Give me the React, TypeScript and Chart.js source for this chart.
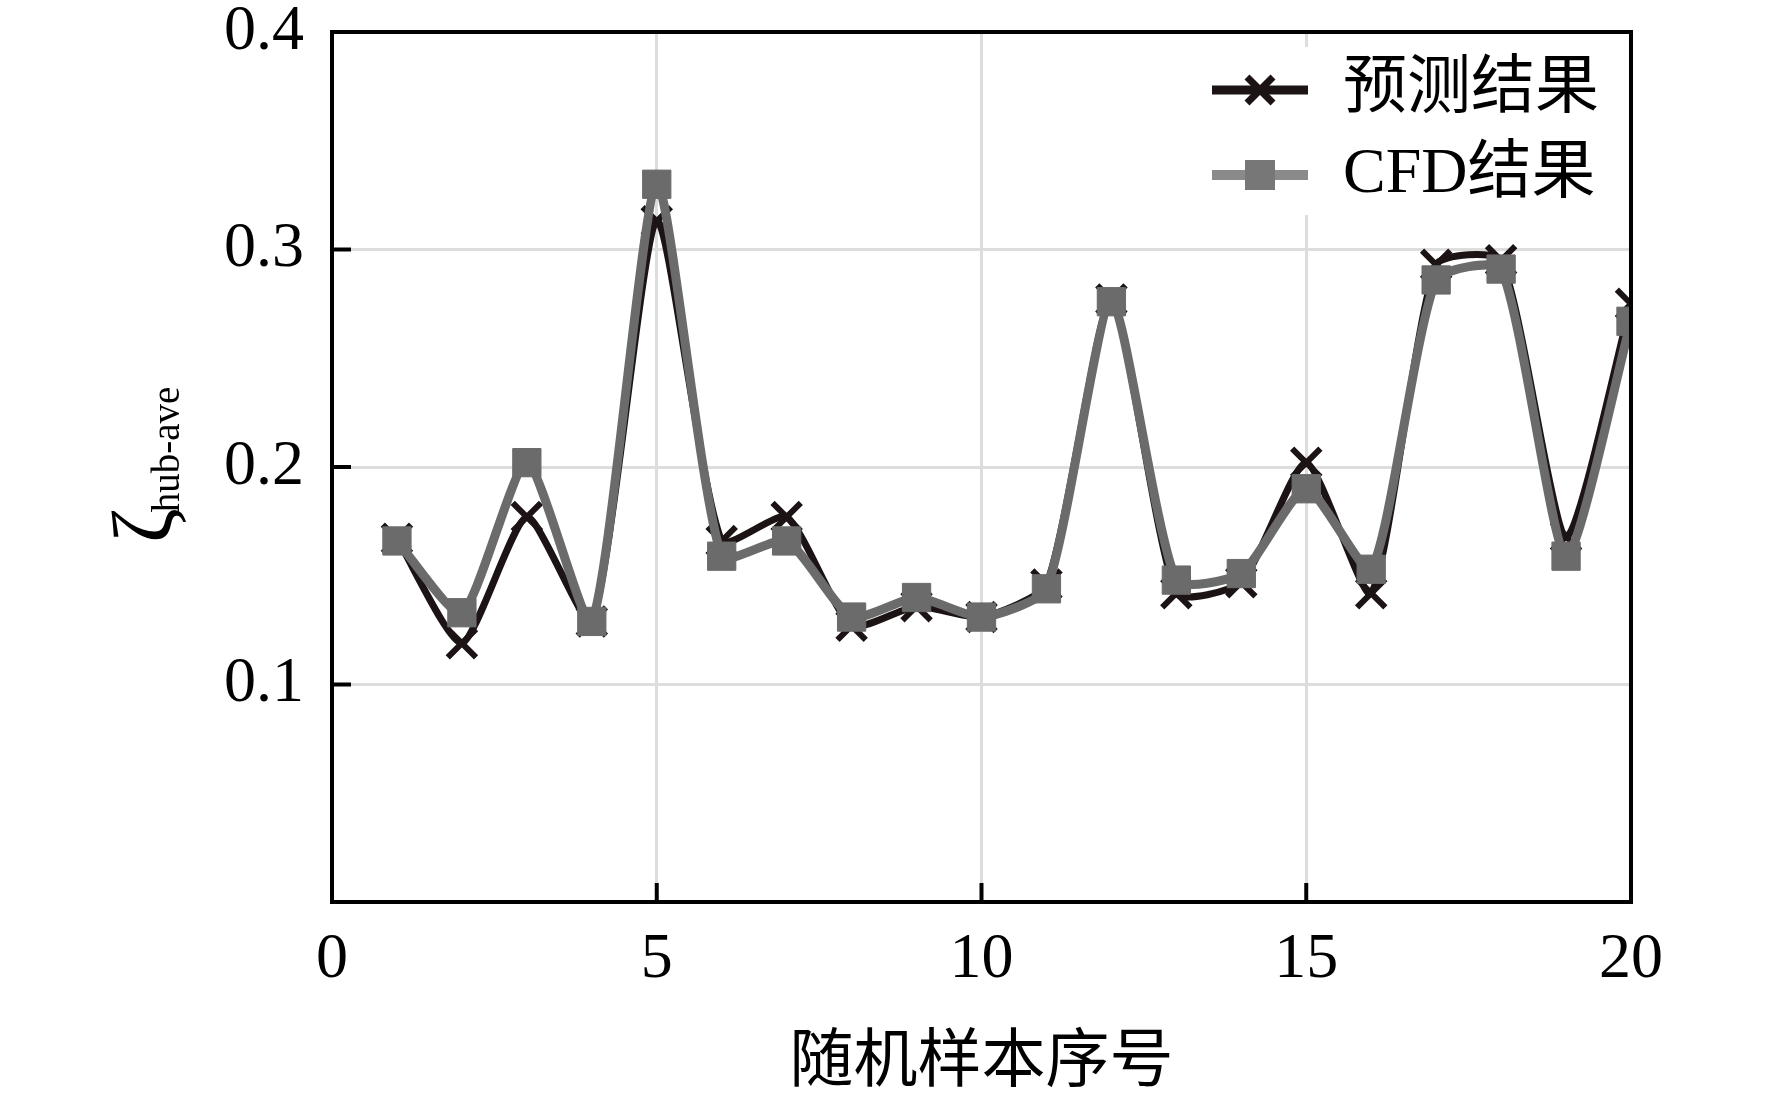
import React, { useEffect, useRef } from 'react';
import { Chart, registerables } from 'chart.js';

Chart.register(...registerables);

const sampleIndex = [1, 2, 3, 4, 5, 6, 7, 8, 9, 10, 11, 12, 13, 14, 15, 16, 17, 18, 19, 20];
const predicted = [0.167, 0.119, 0.177, 0.129, 0.313, 0.166, 0.177, 0.127, 0.136, 0.131, 0.146, 0.277, 0.142, 0.147, 0.202, 0.142, 0.293, 0.295, 0.168, 0.275];
const cfdResult = [0.166, 0.133, 0.202, 0.129, 0.330, 0.159, 0.166, 0.131, 0.140, 0.131, 0.144, 0.276, 0.148, 0.151, 0.190, 0.153, 0.286, 0.291, 0.159, 0.267];
const xTickValues = [0, 5, 10, 15, 20];
const yTickValues = [0.1, 0.2, 0.3, 0.4];
const seriesLabels = ['预测结果', 'CFD结果'];
const xTitle = '随机样本序号';
const yTitleMain = 'ζ';
const yTitleSub = 'hub-ave';

const FONT = "'Liberation Serif', 'Noto Sans CJK SC', serif";
const BLACK = '#1c1414';
const GRAY = '#6b6b6b';
const GRID = '#dddddd';

const framePlugin = {
  id: 'frameDecor',
  afterDraw(chart: any) {
    const ctx = chart.ctx as CanvasRenderingContext2D;
    const { left, right, top, bottom } = chart.chartArea;
    const xs = chart.scales.x;
    const ys = chart.scales.y;
    ctx.save();
    // inward ticks
    ctx.strokeStyle = '#000';
    ctx.lineWidth = 4;
    ctx.lineCap = 'butt';
    xTickValues.forEach((v) => {
      const px = xs.getPixelForValue(v);
      ctx.beginPath();
      ctx.moveTo(px, bottom);
      ctx.lineTo(px, bottom - 19);
      ctx.stroke();
    });
    yTickValues.forEach((v) => {
      const py = ys.getPixelForValue(v);
      ctx.beginPath();
      ctx.moveTo(left, py);
      ctx.lineTo(left + 19, py);
      ctx.stroke();
    });
    // frame
    ctx.lineWidth = 4;
    ctx.strokeRect(left, top, right - left, bottom - top);

    // legend
    const bgL = right - 436;
    ctx.fillStyle = '#ffffff';
    ctx.fillRect(bgL, top + 15, 426, 168);
    const lineX0 = right - 419;
    const lineX1 = right - 323;
    const mx = (lineX0 + lineX1) / 2;
    const textX = right - 288;
    const rows = [top + 58, top + 143];
    // row 1: predicted
    ctx.strokeStyle = BLACK;
    ctx.lineWidth = 9;
    ctx.beginPath();
    ctx.moveTo(lineX0, rows[0]);
    ctx.lineTo(lineX1, rows[0]);
    ctx.stroke();
    ctx.lineWidth = 7;
    const a = 13;
    ctx.beginPath();
    ctx.moveTo(mx - a, rows[0] - a);
    ctx.lineTo(mx + a, rows[0] + a);
    ctx.moveTo(mx - a, rows[0] + a);
    ctx.lineTo(mx + a, rows[0] - a);
    ctx.stroke();
    // row 2: CFD
    ctx.strokeStyle = '#8a8a8a';
    ctx.lineWidth = 10;
    ctx.beginPath();
    ctx.moveTo(lineX0, rows[1]);
    ctx.lineTo(lineX1, rows[1]);
    ctx.stroke();
    ctx.fillStyle = '#777777';
    ctx.fillRect(mx - 15, rows[1] - 15, 30, 30);

    ctx.fillStyle = '#000';
    ctx.font = `64px ${FONT}`;
    ctx.textAlign = 'left';
    ctx.textBaseline = 'middle';
    ctx.fillText(seriesLabels[0], textX, rows[0]);
    ctx.fillText(seriesLabels[1], textX, rows[1]);

    // y-axis title with subscript
    const cy = (top + bottom) / 2;
    const bx = left - 161;
    ctx.translate(bx, cy);
    ctx.rotate(-Math.PI / 2);
    ctx.textBaseline = 'alphabetic';
    ctx.textAlign = 'left';
    ctx.font = `84px ${FONT}`;
    const zStart = -76;
    ctx.fillText(yTitleMain, zStart, 0);
    const zw = ctx.measureText(yTitleMain).width;
    ctx.font = `39px ${FONT}`;
    ctx.fillText(yTitleSub, zStart + zw - 4, 8);
    ctx.restore();
  },
};

export default function App() {
  const canvasRef = useRef<HTMLCanvasElement | null>(null);

  useEffect(() => {
    document.body.style.margin = '0';
    const canvas = canvasRef.current;
    if (!canvas) return;
    const chart = new Chart(canvas, {
      type: 'line',
      data: {
        datasets: [
          {
            label: seriesLabels[1],
            data: sampleIndex.map((x, i) => ({ x, y: cfdResult[i] })),
            borderColor: GRAY,
            backgroundColor: GRAY,
            borderWidth: 9,
            pointStyle: 'rect',
            pointRadius: 20,
            pointBorderWidth: 1,
            pointBackgroundColor: GRAY,
            pointBorderColor: GRAY,
            tension: 0.2,
            order: 0,
            clip: 0,
          },
          {
            label: seriesLabels[0],
            data: sampleIndex.map((x, i) => ({ x, y: predicted[i] })),
            borderColor: BLACK,
            backgroundColor: BLACK,
            borderWidth: 7,
            pointStyle: 'crossRot',
            pointRadius: 20,
            pointBorderWidth: 6,
            pointBorderColor: BLACK,
            tension: 0.2,
            order: 1,
            clip: 0,
          },
        ],
      },
      options: {
        animation: false,
        responsive: false,
        devicePixelRatio: 1,
        layout: { padding: { left: 0, right: 141, top: 0, bottom: 0 } },
        plugins: {
          legend: { display: false },
          tooltip: { enabled: false },
        },
        scales: {
          x: {
            type: 'linear',
            min: 0,
            max: 20,
            afterBuildTicks: (s: any) => {
              s.ticks = xTickValues.map((v) => ({ value: v }));
            },
            afterFit: (s: any) => {
              s.height = 196;
            },
            ticks: {
              color: '#000',
              font: { family: FONT, size: 64, lineHeight: 1 },
              padding: 26,
              maxRotation: 0,
              autoSkip: false,
            },
            grid: { color: GRID, lineWidth: 3, drawTicks: false },
            border: { display: false },
            title: {
              display: true,
              text: xTitle,
              color: '#000',
              font: { family: FONT, size: 64, lineHeight: 1.2 },
              padding: { top: 0, bottom: -5 },
            },
          },
          y: {
            type: 'linear',
            min: 0,
            max: 0.4,
            afterBuildTicks: (s: any) => {
              s.ticks = yTickValues.map((v) => ({ value: v }));
            },
            afterFit: (s: any) => {
              s.width = 332;
              s.paddingTop = 32;
              s.paddingBottom = 0;
            },
            ticks: {
              color: '#000',
              font: { family: FONT, size: 64, lineHeight: 1 },
              padding: 28,
              callback: (v: any) => Number(v).toFixed(1),
            },
            grid: { color: GRID, lineWidth: 3, drawTicks: false },
            border: { display: false },
          },
        },
      },
      plugins: [framePlugin],
    });
    return () => chart.destroy();
  }, []);

  return (
    <div style={{ width: 1772, height: 1098, background: '#fff' }}>
      <canvas ref={canvasRef} width={1772} height={1098} style={{ display: 'block' }} />
    </div>
  );
}
